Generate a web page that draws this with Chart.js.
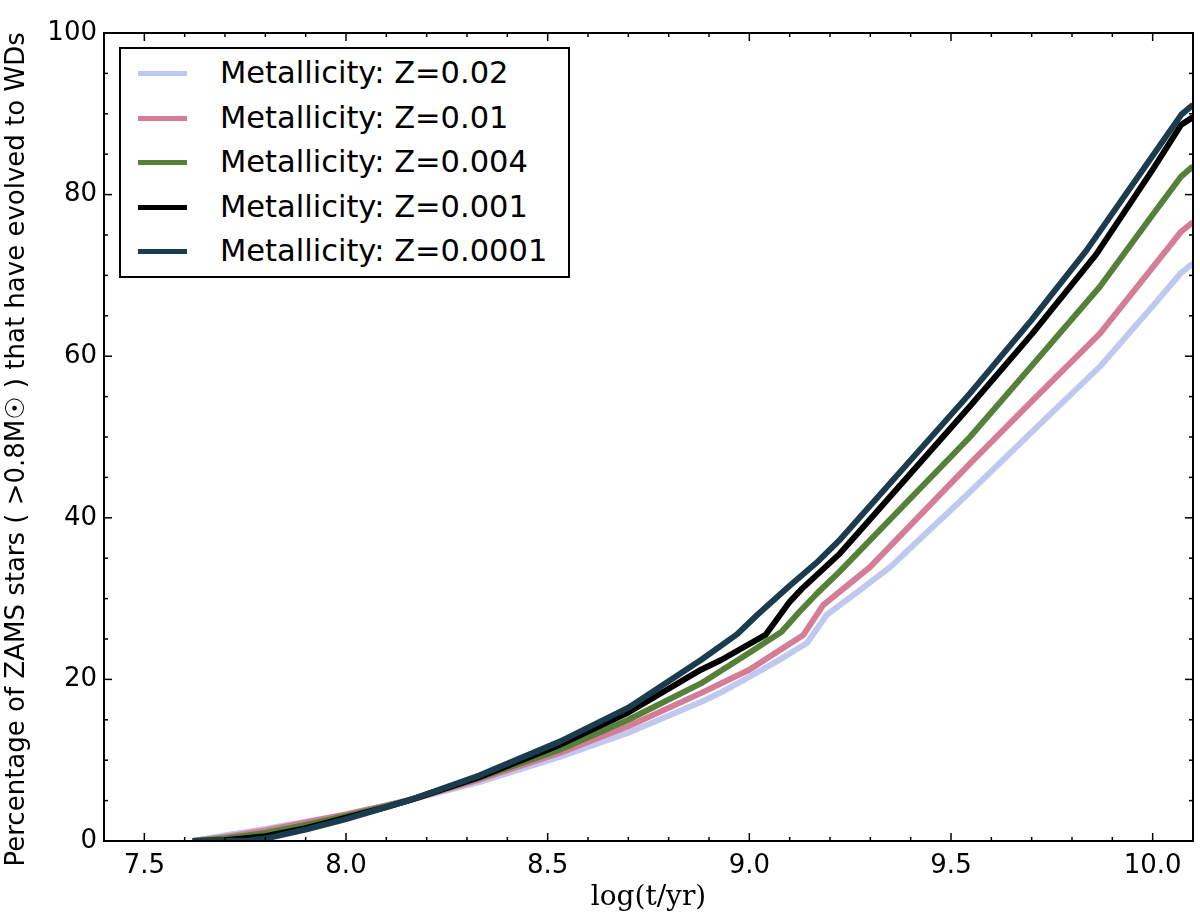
<!DOCTYPE html>
<html>
<head>
<meta charset="utf-8">
<script src="https://cdn.jsdelivr.net/npm/chart.js@4.4.1/dist/chart.umd.min.js"></script>
<style>
  html, body { margin: 0; padding: 0; background: #fff; }
  #wrap { position: relative; width: 1200px; height: 919px; }
  #legend {
    position: absolute; left: 119px; top: 47px; width: 447px; height: 227px;
    border: 2px solid #000; background: #fff;
    font-family: "DejaVu Sans", sans-serif; font-size: 30.5px; color: #000;
  }
  .row { position: absolute; left: 0; height: 40px; width: 100%; }
  .swatch { position: absolute; left: 17px; width: 49px; height: 5px; top: 18px; }
  .lbl { position: absolute; left: 99px; top: 1px; line-height: 38px; white-space: nowrap; }
</style>
</head>
<body>
<div id="wrap">
  <canvas id="grafic"></canvas>
  <div id="legend"></div>
</div>
<script>
// Date
const etichete = ['Metallicity: Z=0.02', 'Metallicity: Z=0.01', 'Metallicity: Z=0.004', 'Metallicity: Z=0.001', 'Metallicity: Z=0.0001'];

const tZ002 = [7.62, 7.7, 7.8, 7.9, 8.0, 8.1, 8.16, 8.33, 8.53, 8.7, 8.88, 8.93, 9.0, 9.07, 9.143, 9.192, 9.27, 9.349, 9.547, 9.7, 9.869, 10.0, 10.07, 10.1];
const pZ002 = [0, 0.7, 1.5, 2.4, 3.3, 4.4, 5.1, 7.3, 10.4, 13.4, 17.2, 18.4, 20.3, 22.3, 24.5, 28.0, 30.9, 33.9, 43.2, 50.6, 58.7, 66.2, 70.3, 71.5];

const tZ001 = [7.62, 7.7, 7.8, 7.9, 8.0, 8.1, 8.16, 8.33, 8.53, 8.7, 8.88, 9.0, 9.134, 9.183, 9.299, 9.547, 9.7, 9.869, 10.0, 10.07, 10.1];
const pZ001 = [0, 0.5, 1.3, 2.3, 3.3, 4.4, 5.1, 7.6, 10.9, 14.2, 18.3, 21.2, 25.5, 29.2, 33.9, 46.7, 54.4, 62.8, 71.0, 75.4, 76.6];

const tZ0004 = [7.62, 7.7, 7.8, 7.9, 8.0, 8.1, 8.16, 8.33, 8.53, 8.7, 8.88, 9.0, 9.08, 9.125, 9.167, 9.225, 9.547, 9.7, 9.869, 10.0, 10.07, 10.1];
const pZ0004 = [0, 0.3, 1.0, 2.0, 3.1, 4.3, 5.1, 7.8, 11.3, 15.0, 19.5, 23.3, 25.9, 28.4, 30.6, 33.4, 50.0, 58.8, 68.6, 77.5, 82.2, 83.5];

const tZ0001 = [7.62, 7.7, 7.8, 7.9, 8.0, 8.1, 8.16, 8.33, 8.53, 8.7, 8.88, 8.93, 9.04, 9.1, 9.13, 9.225, 9.547, 9.7, 9.86, 10.0, 10.07, 10.1];
const pZ0001 = [0, 0.1, 0.6, 1.6, 2.9, 4.2, 5.1, 7.9, 11.9, 15.9, 21.2, 22.4, 25.5, 29.6, 31.2, 35.6, 53.8, 62.7, 72.6, 83.1, 88.6, 89.6];

const tZ00001 = [7.62, 7.7, 7.76, 7.8, 7.9, 8.0, 8.1, 8.16, 8.33, 8.53, 8.7, 8.88, 8.97, 9.02, 9.1, 9.17, 9.225, 9.547, 9.7, 9.836, 10.0, 10.071, 10.1];
const pZ00001 = [0, 0, 0.05, 0.3, 1.4, 2.7, 4.2, 5.1, 8.1, 12.3, 16.5, 22.4, 25.6, 28.0, 31.6, 34.6, 37.3, 55.4, 64.5, 73.1, 84.8, 89.9, 91.1];

const tickuriX = [7.5, 8.0, 8.5, 9.0, 9.5, 10.0];
const tickuriY = [0, 20, 40, 60, 80, 100];

const culori = ['#c0c8f0', '#d57d96', '#55803a', '#000000', '#1b3b4e'];
const serii = [[tZ002, pZ002], [tZ001, pZ001], [tZ0004, pZ0004], [tZ0001, pZ0001], [tZ00001, pZ00001]];

function puncte(t, p) { return t.map((v, i) => ({x: v, y: p[i]})); }

// Ticks spre interior + rama, ca in matplotlib
const ramaPlugin = {
    id: 'rama',
    afterDraw(chart) {
        const {ctx, chartArea: a, scales: {x, y}} = chart;
        ctx.save();
        ctx.strokeStyle = '#000';
        ctx.lineWidth = 1.5;
        const linie = (x1, y1, x2, y2) => { ctx.beginPath(); ctx.moveTo(x1, y1); ctx.lineTo(x2, y2); ctx.stroke(); };
        for (let i = 74; i <= 101; i++) {
            const px = x.getPixelForValue(i / 10);
            const len = (i % 5 === 0) ? 8 : 4;
            linie(px, a.bottom, px, a.bottom - len);
            linie(px, a.top, px, a.top + len);
        }
        for (let v = 0; v <= 100; v += 5) {
            const py = y.getPixelForValue(v);
            const len = (v % 20 === 0) ? 8 : 4;
            linie(a.left, py, a.left + len, py);
            linie(a.right, py, a.right - len, py);
        }
        ctx.lineWidth = 2;
        ctx.strokeRect(a.left, a.top, a.right - a.left, a.bottom - a.top);
        ctx.restore();
    }
};

const fontTick = {family: '"DejaVu Sans", sans-serif', size: 26};

const grafic = new Chart(document.getElementById('grafic'), {
    type: 'line',
    data: {
        datasets: serii.map((s, i) => ({
            label: etichete[i],
            data: puncte(s[0], s[1]),
            borderColor: culori[i],
            backgroundColor: culori[i],
            borderWidth: 6,
            pointRadius: 0,
            tension: 0,
            borderJoinStyle: 'round',
            fill: false,
            clip: 0,
            order: serii.length - i
        }))
    },
    options: {
        responsive: true,
        maintainAspectRatio: false,
        animation: false,
        layout: { padding: {top: 33, right: 7, left: 0, bottom: 0} },
        plugins: { legend: {display: false}, tooltip: {enabled: false} },
        scales: {
            x: {
                type: 'linear', min: 7.4, max: 10.1,
                grid: {display: false, drawTicks: false},
                border: {display: false},
                afterBuildTicks: s => { s.ticks = tickuriX.map(v => ({value: v})); },
                afterFit: s => { s.height = 78; },
                ticks: { color: '#000', font: fontTick, padding: 10, maxRotation: 0, autoSkip: false,
                         callback: v => v.toFixed(1) },
                title: { display: true, text: 'log(t/yr)', color: '#000',
                         font: {family: '"DejaVu Serif", "Liberation Serif", serif', size: 28},
                         padding: {top: 0, bottom: 4} }
            },
            y: {
                min: 0, max: 100,
                grid: {display: false, drawTicks: false},
                border: {display: false},
                afterBuildTicks: s => { s.ticks = tickuriY.map(v => ({value: v})); },
                afterFit: s => { s.width = 104; },
                ticks: { color: '#000', font: fontTick, padding: 7, autoSkip: false },
                title: { display: true, text: 'Percentage of ZAMS stars ( >0.8M☉ ) that have evolved to WDs   ',
                         color: '#000', font: {family: '"DejaVu Sans", sans-serif', size: 26},
                         padding: {top: 2, bottom: 0} }
            }
        }
    },
    plugins: [ramaPlugin]
});

// Legenda in cutie, ca in figura
const leg = document.getElementById('legend');
grafic.data.datasets.forEach((ds, i) => {
    const r = document.createElement('div');
    r.className = 'row';
    r.style.top = (4 + i * 44.5) + 'px';
    r.innerHTML = '<div class="swatch" style="background:' + ds.borderColor + '"></div><div class="lbl">' + ds.label + '</div>';
    leg.appendChild(r);
});
</script>
</body>
</html>
